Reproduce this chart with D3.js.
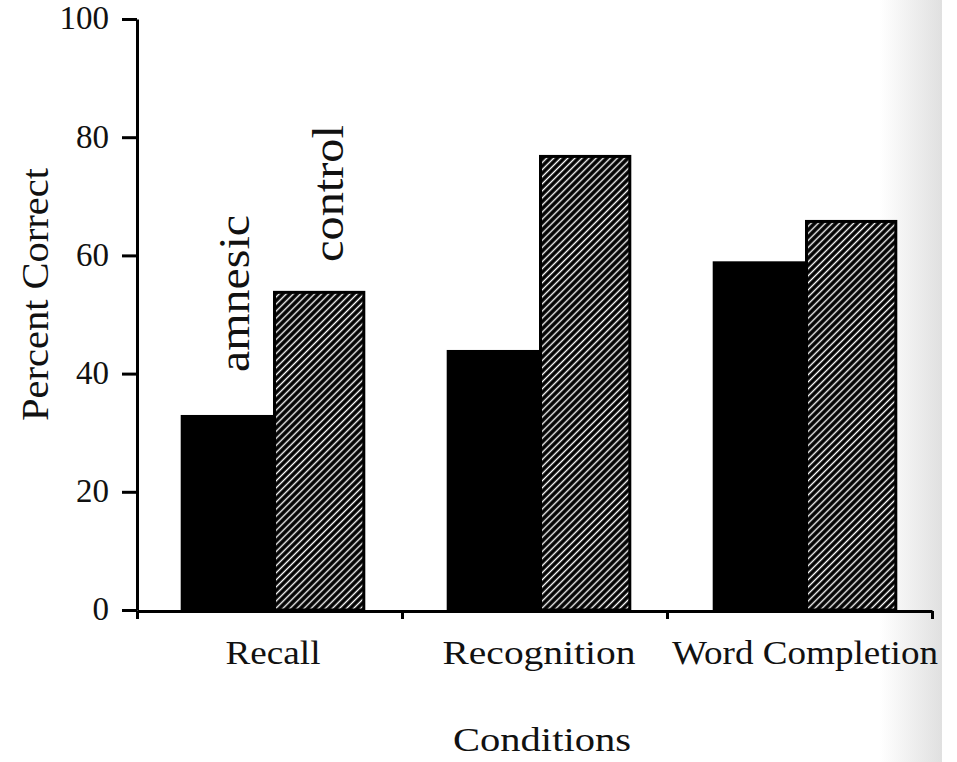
<!DOCTYPE html>
<html>
<head>
<meta charset="utf-8">
<script src="https://cdn.jsdelivr.net/npm/d3@7"></script>
<style>
  body { margin: 0; background: #fff; }
  svg text { font-family: "Liberation Serif", "DejaVu Serif", serif; fill: #111; }
</style>
</head>
<body>
<div id="chart"></div>
<script>
// dati
const conditions = ["Recall", "Recognition", "Word Completion"];
const groups = ["amnesic", "control"];
const amnesicValues = [33, 44, 59];
const controlValues = [54, 77, 66];
const yTickValues = [0, 20, 40, 60, 80, 100];

const width = 957, height = 762;
const plotLeft = 137, plotRight = 932, plotTop = 19, plotBottom = 610;

const svg = d3.select("#chart")
    .append("svg")
    .attr("width", width)
    .attr("height", height);

const defs = svg.append("defs");

// tratteggio diagonale per il gruppo di controllo
const hatch = defs.append("pattern")
    .attr("id", "hatch")
    .attr("patternUnits", "userSpaceOnUse")
    .attr("width", 5)
    .attr("height", 5)
    .attr("patternTransform", "rotate(45)");
hatch.append("rect").attr("width", 5).attr("height", 5).attr("fill", "#000");
hatch.append("line")
    .attr("x1", 2.5).attr("y1", 0).attr("x2", 2.5).attr("y2", 5)
    .attr("stroke", "#fff").attr("stroke-width", 1.4);

// ombra della scansione sul bordo destro
const shade = defs.append("linearGradient").attr("id", "shade");
shade.append("stop").attr("offset", "0%").attr("stop-color", "#fff");
shade.append("stop").attr("offset", "100%").attr("stop-color", "#e0e0e0");
svg.append("rect")
    .attr("x", 880).attr("y", 0)
    .attr("width", 62).attr("height", height)
    .attr("fill", "url(#shade)");

// scale
const y = d3.scaleLinear().domain([0, 100]).range([plotBottom, plotTop]);

const x = d3.scaleBand()
    .domain(conditions)
    .range([plotLeft + 3, plotRight + 6])
    .paddingInner(0.306)
    .paddingOuter(0.153);

const xSub = d3.scaleBand()
    .domain(groups)
    .range([0, x.bandwidth()]);

const xBound = d3.scaleLinear().domain([0, conditions.length]).range([plotLeft, plotRight]);

// barre
const barData = conditions.map((c, i) => ({
    condition: c,
    values: [
        { group: "amnesic", value: amnesicValues[i] },
        { group: "control", value: controlValues[i] }
    ]
}));

const barGroups = svg.append("g")
    .selectAll("g")
    .data(barData)
    .join("g")
    .attr("transform", d => `translate(${x(d.condition)},0)`);

barGroups.selectAll("rect")
    .data(d => d.values)
    .join("rect")
    .attr("x", d => xSub(d.group) + (d.group === "control" ? 1.5 : 0))
    .attr("y", d => y(d.value) + (d.group === "control" ? 1.5 : 0))
    .attr("width", d => xSub.bandwidth() - (d.group === "control" ? 3 : 0))
    .attr("height", d => y(0) - y(d.value) - (d.group === "control" ? 1.5 : 0))
    .attr("fill", d => d.group === "control" ? "url(#hatch)" : "#000")
    .attr("stroke", d => d.group === "control" ? "#000" : "none")
    .attr("stroke-width", 3);

// asse y
const yAxis = svg.append("g")
    .attr("transform", `translate(${plotLeft},0)`)
    .call(d3.axisLeft(y).tickValues(yTickValues).tickSize(15).tickSizeOuter(0).tickPadding(13));

yAxis.select(".domain").attr("stroke", "#000").attr("stroke-width", 3);
yAxis.selectAll(".tick line").attr("stroke", "#000").attr("stroke-width", 3);
yAxis.selectAll(".tick text")
    .style("font-size", "33px")
    .attr("dy", "0.3em")
    .style("fill", "#111");

// asse x
const xAxis = svg.append("g")
    .attr("transform", `translate(0,${plotBottom + 1})`)
    .call(d3.axisBottom(xBound).tickValues(d3.range(conditions.length + 1)).tickSize(8).tickSizeOuter(0).tickFormat(""));

xAxis.select(".domain").attr("stroke", "#000").attr("stroke-width", 3);
xAxis.selectAll(".tick line").attr("stroke", "#000").attr("stroke-width", 3);

// etichette delle condizioni
const labelLength = { "Recall": 95, "Recognition": 193, "Word Completion": 266 };
svg.append("g")
    .selectAll("text")
    .data(conditions)
    .join("text")
    .attr("x", d => x(d) + x.bandwidth() / 2)
    .attr("y", 664)
    .attr("text-anchor", "middle")
    .attr("textLength", d => labelLength[d])
    .attr("lengthAdjust", "spacingAndGlyphs")
    .style("font-size", "34px")
    .text(d => d);

// titolo asse x
svg.append("text")
    .attr("x", 542)
    .attr("y", 751)
    .attr("text-anchor", "middle")
    .attr("textLength", 178)
    .attr("lengthAdjust", "spacingAndGlyphs")
    .style("font-size", "34px")
    .text("Conditions");

// titolo asse y
svg.append("text")
    .attr("transform", "translate(48,421) rotate(-90)")
    .attr("textLength", 253)
    .attr("lengthAdjust", "spacingAndGlyphs")
    .style("font-size", "37px")
    .text("Percent Correct");

// etichette dei gruppi sopra le barre di Recall
const groupLabelPos = [
    { text: groups[0], x: 249, y: 372, len: 157 },
    { text: groups[1], x: 343, y: 262, len: 137 }
];
svg.append("g")
    .selectAll("text")
    .data(groupLabelPos)
    .join("text")
    .attr("transform", d => `translate(${d.x},${d.y}) rotate(-90)`)
    .attr("textLength", d => d.len)
    .attr("lengthAdjust", "spacingAndGlyphs")
    .style("font-size", "45px")
    .text(d => d.text);
</script>
</body>
</html>
